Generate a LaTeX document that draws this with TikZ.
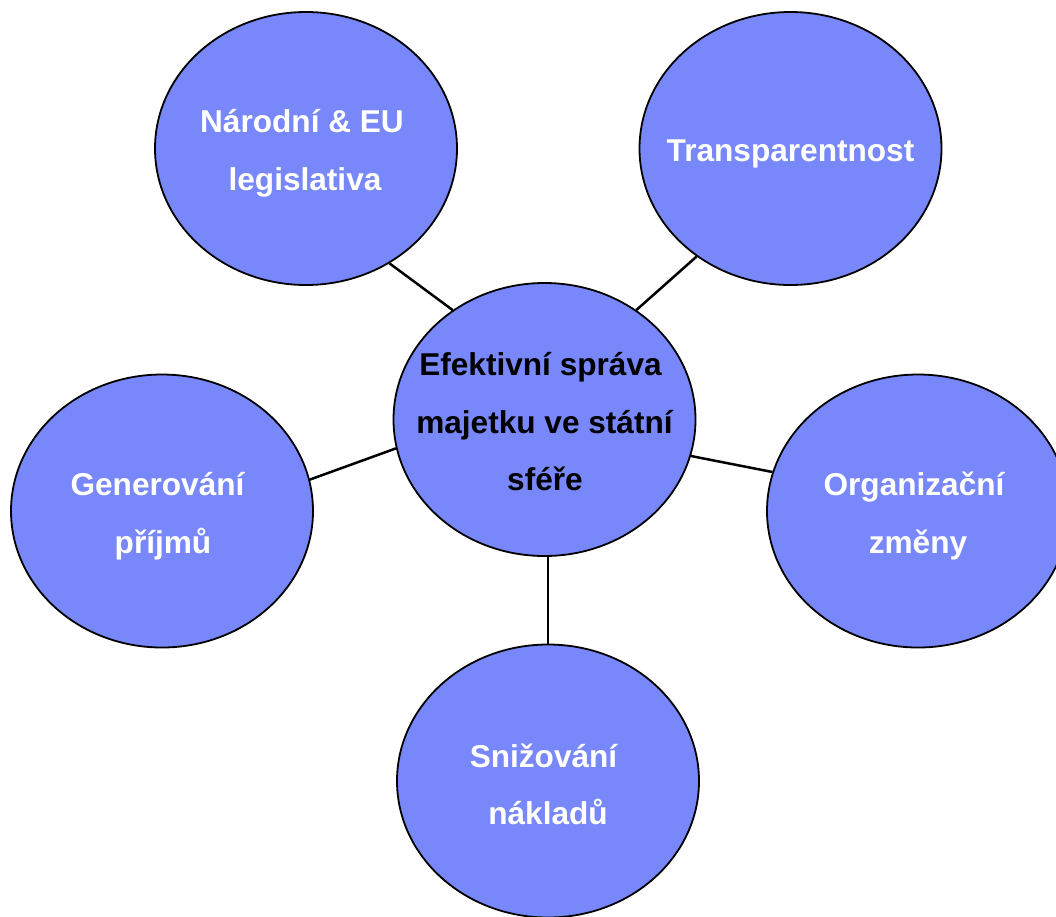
\documentclass[tikz,border=0pt]{standalone}
\usepackage{fontspec}
\setmainfont{Liberation Sans}
\usetikzlibrary{shapes.geometric}
\definecolor{bubble}{RGB}{120,136,250}
\tikzset{
  bub/.style={ellipse, draw=black, line width=1.8pt, fill=bubble, inner sep=0pt,
              minimum width=302pt, minimum height=273pt},
  wtxt/.style={anchor=base, inner sep=0pt, text=white, font=\fontsize{31.6}{36}\selectfont\bfseries},
  btxt/.style={anchor=base, inner sep=0pt, text=black, font=\fontsize{31.6}{36}\selectfont\bfseries},
  conn/.style={draw=black, line width=2.5pt}
}
\begin{document}
\begin{tikzpicture}[x=1pt,y=-1pt]
\useasboundingbox (0,0) rectangle (1056,916);
\node[bub] (c) at (544.5,419.5) {};
\node[bub] (tl) at (306,148.5) {};
\node[bub] (tr) at (790.5,148.5) {};
\node[bub] (l) at (162,511) {};
\node[bub] (r) at (918,511) {};
\node[bub] (b) at (548,781) {};
\draw[conn] (c.130.4) -- (tl.-54.5);
\draw[conn] (c.50.4) -- (tr.229.5);
\draw[conn] (c.191.8) -- (l.12.9);
\draw[conn] (c.-14) -- (r.165.8);
\draw[conn] (b.north |- c.south) -- (b.north);
\node[wtxt] (tl1) at (302,132) {Národní \& EU};
\node[wtxt] (tl2) at (305,190) {legislativa};
\node[wtxt] (tr1) at (790.5,161) {Transparentnost};
\node[btxt] (c1) at (540.5,375) {Efektivní správa};
\node[btxt] (c2) at (544.5,433) {majetku ve státní};
\node[btxt] (c3) at (545,490) {sféře};
\node[wtxt] (l1) at (157.5,495) {Generování};
\node[wtxt] (l2) at (163,553) {příjmů};
\node[wtxt] (r1) at (914,495) {Organizační};
\node[wtxt] (r2) at (918,553) {změny};
\node[wtxt] (b1) at (543.5,767) {Snižování};
\node[wtxt] (b2) at (548,824) {nákladů};
\end{tikzpicture}
\end{document}
